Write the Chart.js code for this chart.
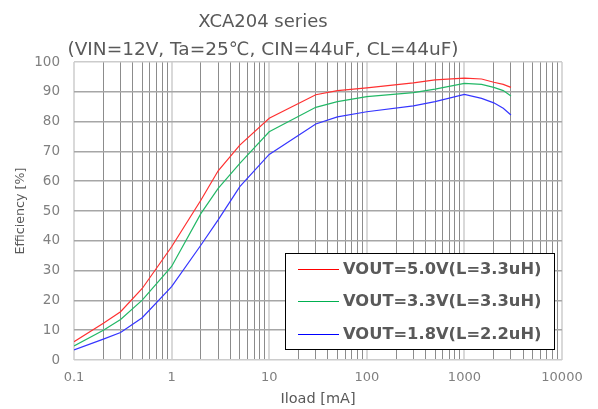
<!DOCTYPE html>
<html><head><meta charset="utf-8">
<script src="https://cdn.jsdelivr.net/npm/chart.js@4"></script>
<style>html,body{margin:0;padding:0;background:#fff}#wrap{width:598px;height:409px;position:relative}</style>
</head><body><div id="wrap"><canvas id="c" width="598" height="409"></canvas></div>
<script>
const titleLines = ['XCA204 series', '(VIN=12V, Ta=25℃, CIN=44uF, CL=44uF)'];
const xTitle = 'Iload [mA]';
const yTitle = 'Efficiency [%]';
const loads   = [0.1, 0.2, 0.3, 0.5, 1, 2, 3, 5, 10, 30, 50, 100, 300, 500, 1000, 1500, 2000, 2500, 3000];
const eff5V0  = [6.1, 12.3, 16.2, 24.0, 38.0, 53.7, 63.5, 72.1, 81.1, 89.0, 90.4, 91.3, 93.0, 94.0, 94.6, 94.3, 93.2, 92.5, 91.5];
const eff3V3  = [4.7, 10.0, 13.6, 20.1, 31.4, 49.2, 57.6, 66.0, 76.6, 84.8, 86.7, 88.4, 89.7, 90.9, 92.8, 92.5, 91.5, 90.4, 88.6];
const eff1V8  = [3.4, 7.0, 9.2, 14.2, 24.6, 38.6, 47.0, 58.2, 69.0, 79.2, 81.6, 83.3, 85.3, 86.7, 89.1, 87.8, 86.3, 84.5, 82.2];
const seriesLabels = ['VOUT=5.0V(L=3.3uH)', 'VOUT=3.3V(L=3.3uH)', 'VOUT=1.8V(L=2.2uH)'];
const xMajorTicks = [0.1, 1, 10, 100, 1000, 10000];
const yTicks = [0, 10, 20, 30, 40, 50, 60, 70, 80, 90, 100];

const lineColors = ['#ff3030', '#22b866', '#3535ff'];
const legendColors = ['#ff0000', '#00b050', '#0000ff'];

const xAllTicks = [];
xMajorTicks.forEach((d, i) => {
  xAllTicks.push({value: d, major: true});
  if (i < xMajorTicks.length - 1) for (let k = 2; k <= 9; k++) xAllTicks.push({value: d * k, major: false});
});

function toPts(arr) { return loads.map((x, i) => ({x: x, y: arr[i]})); }
const seriesData = [eff5V0, eff3V3, eff1V8];

const titlePlugin = {
  id: 'twoLineTitle',
  afterDraw(chart) {
    const ctx = chart.ctx;
    ctx.save();
    ctx.fillStyle = '#595959';
    ctx.textAlign = 'center';
    ctx.textBaseline = 'alphabetic';
    ctx.font = '18px "DejaVu Sans"';
    ctx.fillText(titleLines[0], 263, 27);
    ctx.font = '18.5px "DejaVu Sans"';
    ctx.fillText(titleLines[1], 263, 55);
    ctx.restore();
  }
};

const legendPlugin = {
  id: 'boxLegend',
  afterDatasetsDraw(chart) {
    const ctx = chart.ctx, a = chart.chartArea;
    const w = 269, h = 96;
    const x0 = a.right - 8 - w, y0 = a.bottom - 11 - h;
    ctx.save();
    ctx.fillStyle = '#ffffff';
    ctx.fillRect(x0, y0, w, h);
    ctx.strokeStyle = '#000000';
    ctx.lineWidth = 1;
    ctx.strokeRect(Math.round(x0) + 0.5, Math.round(y0) + 0.5, w, h);
    const rows = [16, 48, 81];
    chart.data.datasets.forEach((ds, i) => {
      const y = y0 + rows[i];
      ctx.strokeStyle = legendColors[i];
      ctx.lineWidth = 1;
      ctx.beginPath();
      ctx.moveTo(x0 + 13, Math.round(y) + 0.5);
      ctx.lineTo(x0 + 54, Math.round(y) + 0.5);
      ctx.stroke();
      ctx.fillStyle = '#595959';
      ctx.font = 'bold 16.3px "DejaVu Sans"';
      ctx.textAlign = 'left';
      ctx.textBaseline = 'middle';
      ctx.fillText(ds.label, x0 + 58, y + 1);
    });
    ctx.restore();
  }
};

new Chart(document.getElementById('c'), {
  type: 'line',
  data: {
    datasets: seriesData.map((arr, i) => ({
      label: seriesLabels[i],
      data: toPts(arr),
      borderColor: lineColors[i],
      borderWidth: 1.2,
      pointRadius: 0,
      tension: 0,
      fill: false
    }))
  },
  options: {
    responsive: false,
    animation: false,
    layout: {padding: {top: 62, right: 36, left: 0, bottom: 0}},
    plugins: {legend: {display: false}, title: {display: false}, tooltip: {enabled: false}},
    scales: {
      x: {
        type: 'logarithmic',
        min: 0.1, max: 10000,
        afterBuildTicks: s => { s.ticks = xAllTicks.map(t => ({value: t.value, major: t.major})); },
        afterFit: s => { s.height = 49; },
        ticks: {
          autoSkip: false, maxRotation: 0, minRotation: 0,
          padding: 10,
          color: '#808080',
          font: {family: '"DejaVu Sans"', size: 13},
          callback: (v) => xMajorTicks.includes(v) ? String(v) : ''
        },
        grid: {
          drawTicks: false,
          color: c => (c.tick && xMajorTicks.includes(c.tick.value)) ? '#d9d9d9' : '#8c8c8c',
          lineWidth: c => (c.tick && xMajorTicks.includes(c.tick.value)) ? 2 : 1
        },
        border: {display: false},
        title: {display: true, text: xTitle, color: '#595959', font: {family: '"DejaVu Sans"', size: 14.5}, padding: {top: 0, bottom: 1}}
      },
      y: {
        min: 0, max: 100,
        afterBuildTicks: s => { s.ticks = yTicks.map(v => ({value: v})); },
        afterFit: s => { s.width = 74; },
        ticks: {
          padding: 14,
          color: '#808080',
          font: {family: '"DejaVu Sans"', size: 13.5}
        },
        grid: {
          drawTicks: false,
          color: c => (c.tick && (c.tick.value === 0 || c.tick.value === 100)) ? '#cccccc' : '#a6a6a6',
          lineWidth: 1.6
        },
        border: {display: false},
        title: {display: true, text: yTitle, color: '#595959', font: {family: '"DejaVu Sans"', size: 12.7}, padding: {top: 13, bottom: 0}}
      }
    }
  },
  plugins: [titlePlugin, legendPlugin]
});
</script>
</body></html>
